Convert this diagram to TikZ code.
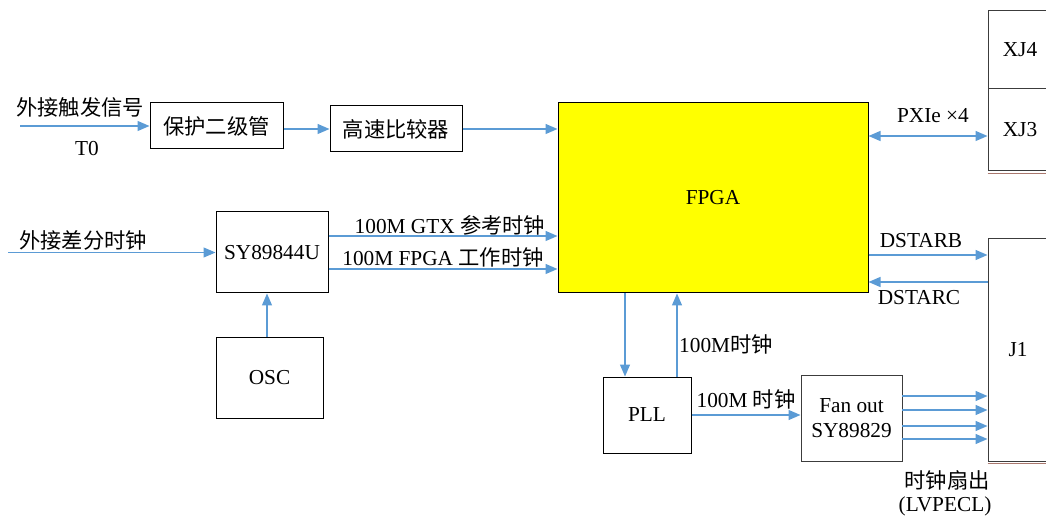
\documentclass[tikz,border=0pt]{standalone}
\usepackage{fontspec}
\setmainfont{Liberation Serif}
\newfontfamily\cjk[Scale=1.0]{Noto Sans CJK SC}
\usetikzlibrary{arrows.meta}
\definecolor{ablue}{RGB}{91,155,213}
\definecolor{fyellow}{RGB}{255,255,0}
\definecolor{shadowc}{RGB}{170,120,110}
\definecolor{dgray}{RGB}{60,60,60}
\begin{document}
\begin{tikzpicture}[x=1pt,y=-1pt,
  every node/.style={font=\fontsize{21.3}{25}\selectfont, inner sep=0pt},
  box/.style={draw=black, line width=1pt, align=center},
  gbox/.style={draw=dgray, line width=1pt, align=center},
  arr/.style={draw=ablue, line width=1.3pt, -{Triangle[length=12pt,width=10pt]}},
  darr/.style={draw=ablue, line width=1.3pt, {Triangle[length=12pt,width=10pt]}-{Triangle[length=12pt,width=10pt]}},
  lbl/.style={text=black}]
\useasboundingbox (0,0) rectangle (1046,518);
\clip (0,0) rectangle (1046,518);

% boxes
\node[box, minimum width=133pt, minimum height=46pt] (prot) at (216.5,126) {\cjk 保护二级管};
\node[box, minimum width=132pt, minimum height=46pt] (comp) at (396,129) {\cjk 高速比较器};
\node[box, fill=fyellow, minimum width=310pt, minimum height=190pt] (fpga) at (713,198) {FPGA};
\node[box, minimum width=112pt, minimum height=81pt] (sy) at (272,252.5) {SY89844U};
\node[box, minimum width=107pt, minimum height=81pt] (osc) at (269.5,377.5) {OSC};
\node[box, minimum width=88pt, minimum height=76pt] (pll) at (647,415) {PLL};
\node[gbox, minimum width=101pt, minimum height=86pt] (fan) at (851.5,418) {Fan out\\[0pt]SY89829};
\node[gbox, minimum width=64pt, minimum height=78pt] (xj4) at (1020,50) {XJ4};
\node[gbox, minimum width=64pt, minimum height=82pt] (xj3) at (1020,130) {XJ3};
\node[gbox, minimum width=60pt, minimum height=222pt] (j1) at (1018,350) {J1};
\draw[shadowc, line width=1pt] ([yshift=-2pt]xj3.south west) -- ([yshift=-2pt]xj3.south east);
\draw[shadowc, line width=1pt] ([yshift=-2pt]j1.south west) -- ([yshift=-2pt]j1.south east);

% trigger input
\coordinate (tin) at (20,126);
\draw[arr] (tin) -- (tin -| prot.west);
\node[lbl] (ltrig) at (80,107) {\cjk 外接触发信号};
\node[lbl] (lt0) at (87,149) {T0};
\draw[arr] (prot.east |- comp) -- (comp.west);
\draw[arr] (comp.east) -- (comp.east -| fpga.west);

% differential clock
\coordinate (cin) at (8,252.5);
\draw[arr] (cin) -- (sy.west);
\node[lbl] (lclk) at (83,240) {\cjk 外接差分时钟};
\coordinate (g1) at ([yshift=16.5pt]sy.east);
\coordinate (g2) at ([yshift=-16.5pt]sy.east);
\draw[arr] (g1) -- (g1 -| fpga.west);
\draw[arr] (g2) -- (g2 -| fpga.west);
\node[lbl] (lgtx) at (450,225) {100M GTX \cjk 参考时钟};
\node[lbl] (lfp) at (443,257) {100M FPGA \cjk 工作时钟};
\coordinate (ox) at (267,0);
\draw[arr] (osc.north -| ox) -- (sy.south -| ox);

% PLL
\coordinate (xa) at (625,0);
\coordinate (xb) at (677,0);
\draw[arr] (fpga.south -| xa) -- (pll.north -| xa);
\draw[arr] (pll.north -| xb) -- (fpga.south -| xb);
\node[lbl, anchor=west] (lpll1) at (679,344) {100M\cjk 时钟};
\draw[arr] (pll.east) -- (pll.east -| fan.west);
\node[lbl] (lpll2) at (746,399) {100M \cjk 时钟};

% fan out to J1
\foreach \yy [count=\i] in {396,410,426,439} {
  \coordinate (fo\i) at (902,\yy);
  \draw[arr] (fo\i) -- (fo\i -| j1.west);
}
\node[lbl] (lfo) at (947,480) {\cjk 时钟扇出};
\node[lbl] (llv) at (945,506) {(LVPECL)};

% FPGA right side
\coordinate (px) at (0,136);
\draw[darr] (fpga.east |- px) -- (xj3.west |- px);
\node[lbl] (lpx) at (933,116) {PXIe ×4};
\coordinate (db) at (0,255);
\coordinate (dc) at (0,282);
\draw[arr] (fpga.east |- db) -- (j1.west |- db);
\draw[arr] (j1.west |- dc) -- (fpga.east |- dc);
\node[lbl] (ldb) at (921,241) {DSTARB};
\node[lbl] (ldc) at (919,298) {DSTARC};
\end{tikzpicture}
\end{document}
